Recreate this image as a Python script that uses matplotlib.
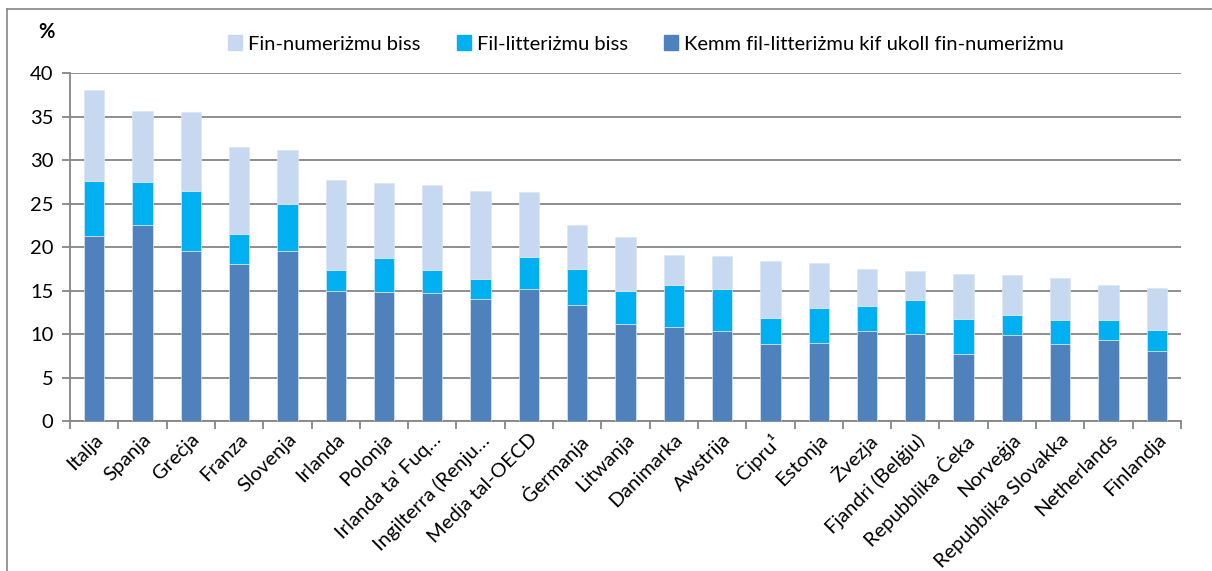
import numpy as np
import matplotlib
matplotlib.use("Agg")
import matplotlib.pyplot as plt
from matplotlib.lines import Line2D

plt.rcParams["font.family"] = ["Lato", "DejaVu Sans"]

countries = ["Italja", "Spanja", "Greċja", "Franza", "Slovenja", "Irlanda",
             "Polonja", "Irlanda ta' Fuq…", "Ingilterra (Renju…",
             "Medja tal-OECD", "Ġermanja", "Litwanja", "Danimarka", "Awstrija",
             "Ċipru¹", "Estonja", "Żvezja", "Fjandri (Belġju)",
             "Repubblika Ċeka", "Norveġja", "Repubblika Slovakka",
             "Netherlands", "Finlandja"]
# segment heights (%)
both = [21.3, 22.5, 19.5, 18.1, 19.5, 14.9, 14.8, 14.7, 14.0, 15.2, 13.3, 11.2,
        10.8, 10.4, 8.8, 9.0, 10.4, 10.0, 7.7, 9.9, 8.9, 9.3, 8.0]
lit_only = [6.3, 5.0, 6.9, 3.4, 5.4, 2.5, 3.9, 2.7, 2.3, 3.6, 4.2, 3.8,
            4.8, 4.8, 3.0, 4.0, 2.8, 3.9, 4.0, 2.3, 2.7, 2.3, 2.5]
num_only = [10.4, 8.1, 9.1, 10.0, 6.2, 10.3, 8.7, 9.7, 10.2, 7.5, 5.0, 6.1,
            3.5, 3.8, 6.6, 5.2, 4.3, 3.4, 5.2, 4.6, 4.8, 4.0, 4.8]

labels = ["Fin-numeriżmu biss", "Fil-litteriżmu biss",
          "Kemm fil-litteriżmu kif ukoll fin-numeriżmu"]
c_light, c_cyan, c_dark = "#C6D9F1", "#00B0F0", "#4F81BD"
FS = 14.5

fig = plt.figure(figsize=(12.12, 5.71), dpi=100)
ax = fig.add_axes([0.0578, 0.2627, 0.9166, 0.6093])

x = np.arange(len(countries))
both = np.array(both)
lit_only = np.array(lit_only)
w = 0.42
ax.bar(x, both, w, color=c_dark, edgecolor="#DCE6F2", linewidth=0.5, zorder=3)
ax.bar(x, lit_only, w, bottom=both, color=c_cyan, edgecolor="#DCE6F2",
       linewidth=0.5, zorder=3)
ax.bar(x, num_only, w, bottom=both + lit_only, color=c_light,
       edgecolor="#DCE6F2", linewidth=0.5, zorder=3)

ax.set_xlim(-0.5, len(countries) - 0.5)
ax.set_ylim(0, 40)
ax.set_yticks(range(0, 41, 5))
ax.yaxis.grid(True, color="#868686", linewidth=1.3, zorder=0)
ax.set_axisbelow(True)

ax.set_xticks(x)
ax.set_xticklabels(countries, rotation=45, ha="right", rotation_mode="anchor",
                   fontsize=FS)
ax.tick_params(axis="x", length=0, pad=7)
ax.set_xticks(np.arange(-0.5, len(countries), 1), minor=True)
ax.tick_params(axis="x", which="minor", length=6, color="#868686", width=1.3)
ax.tick_params(axis="y", labelsize=FS, length=6, color="#868686", width=1.3,
               pad=6)

for s in ["top", "right"]:
    ax.spines[s].set_visible(False)
for s in ["left", "bottom"]:
    ax.spines[s].set_color("#868686")
    ax.spines[s].set_linewidth(1.3)

fig.text(0.038, 0.944, "%", fontsize=FS, fontweight="bold", ha="center",
         va="center")

handles = [plt.Rectangle((0, 0), 1, 1, color=c) for c in (c_light, c_cyan, c_dark)]
fig.legend(handles, labels, loc="center", bbox_to_anchor=(0.533, 0.923),
           ncol=3, frameon=False, fontsize=FS, handlelength=0.7,
           handleheight=0.7, handletextpad=0.3, columnspacing=1.8)

# outer chart border
fig.add_artist(Line2D([7 / 1212, 7 / 1212], [0, 1 - 9 / 571], color="#868686",
                      linewidth=1.2, transform=fig.transFigure))
fig.add_artist(Line2D([7 / 1212, 1], [1 - 9 / 571, 1 - 9 / 571],
                      color="#868686", linewidth=1.2, transform=fig.transFigure))

fig.savefig("out.png", dpi=100)
